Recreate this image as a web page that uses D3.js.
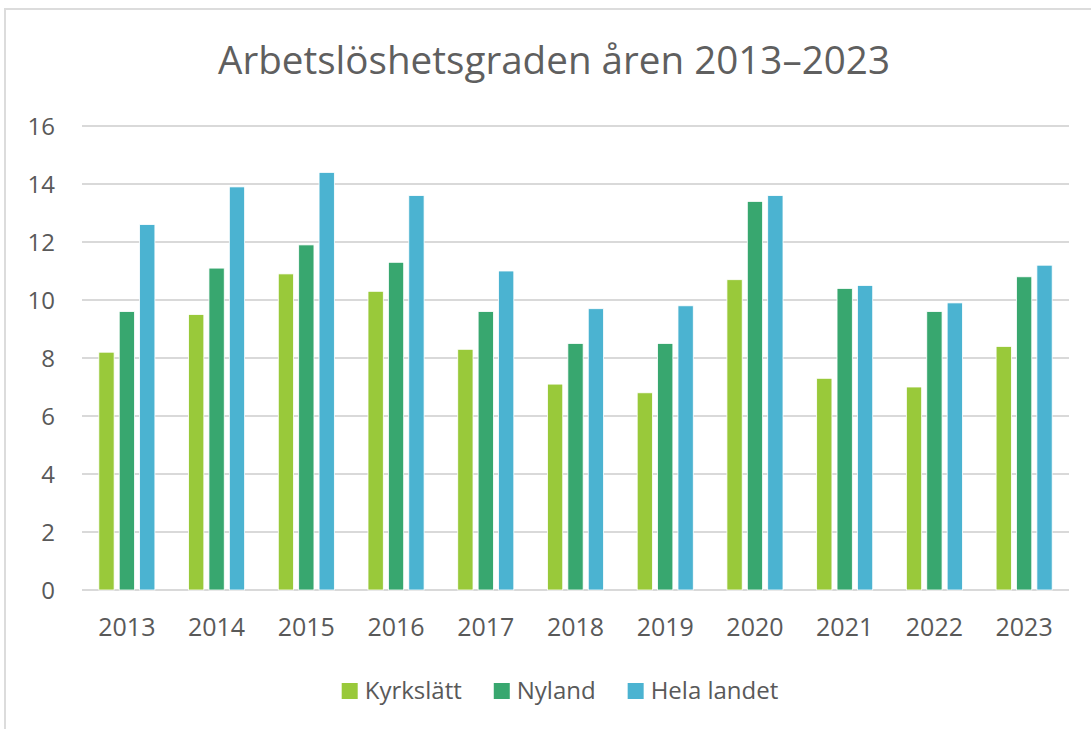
<!DOCTYPE html>
<html>
<head>
<meta charset="utf-8">
<script src="https://cdn.jsdelivr.net/npm/d3@7"></script>
<style>
  body { margin: 0; background: #fff; }
  svg { display: block; font-family: "Open Sans", sans-serif; }
</style>
</head>
<body>
<div id="plotDiv"></div>
<script>
// --- Data ---
const years = ["2013", "2014", "2015", "2016", "2017", "2018", "2019", "2020", "2021", "2022", "2023"];
const seriesNames = ["Kyrkslätt", "Nyland", "Hela landet"];
const kyrkslatt = [8.2, 9.5, 10.9, 10.3, 8.3, 7.1, 6.8, 10.7, 7.3, 7.0, 8.4];
const nyland = [9.6, 11.1, 11.9, 11.3, 9.6, 8.5, 8.5, 13.4, 10.4, 9.6, 10.8];
const helaLandet = [12.6, 13.9, 14.4, 13.6, 11.0, 9.7, 9.8, 13.6, 10.5, 9.9, 11.2];
const yTicks = [0, 2, 4, 6, 8, 10, 12, 14, 16];
const colors = ["#99c93a", "#38a76f", "#4bb3d1"];

const values = [kyrkslatt, nyland, helaLandet];
const rows = years.map((y, i) => ({year: y, vals: seriesNames.map((s, j) => ({name: s, value: values[j][i]}))}));

// --- SVG Setup ---
const width = 1091, height = 729;
const svg = d3.select("#plotDiv").append("svg")
  .attr("width", width)
  .attr("height", height);

// chart frame (only top/left edges visible in the picture)
svg.append("rect")
  .attr("x", 5).attr("y", 9)
  .attr("width", width + 20).attr("height", height + 20)
  .attr("fill", "#fff")
  .attr("stroke", "#dcdcdc")
  .attr("stroke-width", 2);

// --- Scales ---
const x0 = d3.scaleBand().domain(years).range([82, 1069]);
const groupW = x0.bandwidth() / 1.6; // ~60% gap between groups
const x1 = d3.scaleBand().domain(seriesNames)
  .range([(x0.bandwidth() - groupW) / 2, (x0.bandwidth() + groupW) / 2])
  .paddingInner(0.25);
const y = d3.scaleLinear().domain([0, 16]).range([590, 126]);
const color = d3.scaleOrdinal().domain(seriesNames).range(colors);

// --- Gridlines ---
svg.append("g")
  .selectAll("line")
  .data(yTicks)
  .join("line")
  .attr("x1", 82).attr("x2", 1069)
  .attr("y1", d => y(d)).attr("y2", d => y(d))
  .attr("stroke", "#d9d9d9")
  .attr("stroke-width", 2);

// --- Y axis labels ---
svg.append("g")
  .selectAll("text")
  .data(yTicks)
  .join("text")
  .attr("x", 55)
  .attr("y", d => y(d))
  .attr("dy", "0.36em")
  .attr("text-anchor", "end")
  .attr("font-size", 24)
  .attr("fill", "#595959")
  .text(d => d);

// --- Bars ---
svg.append("g")
  .selectAll("g")
  .data(rows)
  .join("g")
  .attr("transform", d => `translate(${x0(d.year)},0)`)
  .selectAll("rect")
  .data(d => d.vals)
  .join("rect")
  .attr("x", d => x1(d.name))
  .attr("width", x1.bandwidth())
  .attr("y", d => y(d.value))
  .attr("height", d => y(0) - y(d.value))
  .attr("fill", d => color(d.name))
  .attr("stroke", "#fff")
  .attr("stroke-width", 0.8);

// --- X axis labels ---
svg.append("g")
  .selectAll("text")
  .data(years)
  .join("text")
  .attr("x", d => x0(d) + x0.bandwidth() / 2)
  .attr("y", 636)
  .attr("text-anchor", "middle")
  .attr("font-size", 25)
  .attr("fill", "#595959")
  .text(d => d);

// --- Title ---
svg.append("text")
  .attr("x", 554)
  .attr("y", 74)
  .attr("text-anchor", "middle")
  .attr("font-size", 38)
  .attr("fill", "#5f5f5f")
  .attr("textLength", 672)
  .attr("lengthAdjust", "spacingAndGlyphs")
  .text("Arbetslöshetsgraden åren 2013–2023");

// --- Legend ---
const legend = svg.append("g");
const items = legend.selectAll("g")
  .data(seriesNames)
  .join("g");
items.append("rect")
  .attr("y", 683)
  .attr("width", 16).attr("height", 16)
  .attr("fill", d => color(d));
items.append("text")
  .attr("x", 23)
  .attr("y", 699)
  .attr("font-size", 24)
  .attr("fill", "#595959")
  .text(d => d);

// place legend items next to each other, centred
let pos = 0;
const offsets = [];
items.each(function() {
  offsets.push(pos);
  pos += this.getBBox().width + 32;
});
const total = pos - 32;
const startX = 560 - total / 2;
items.attr("transform", (d, i) => `translate(${startX + offsets[i]},0)`);
</script>
</body>
</html>
